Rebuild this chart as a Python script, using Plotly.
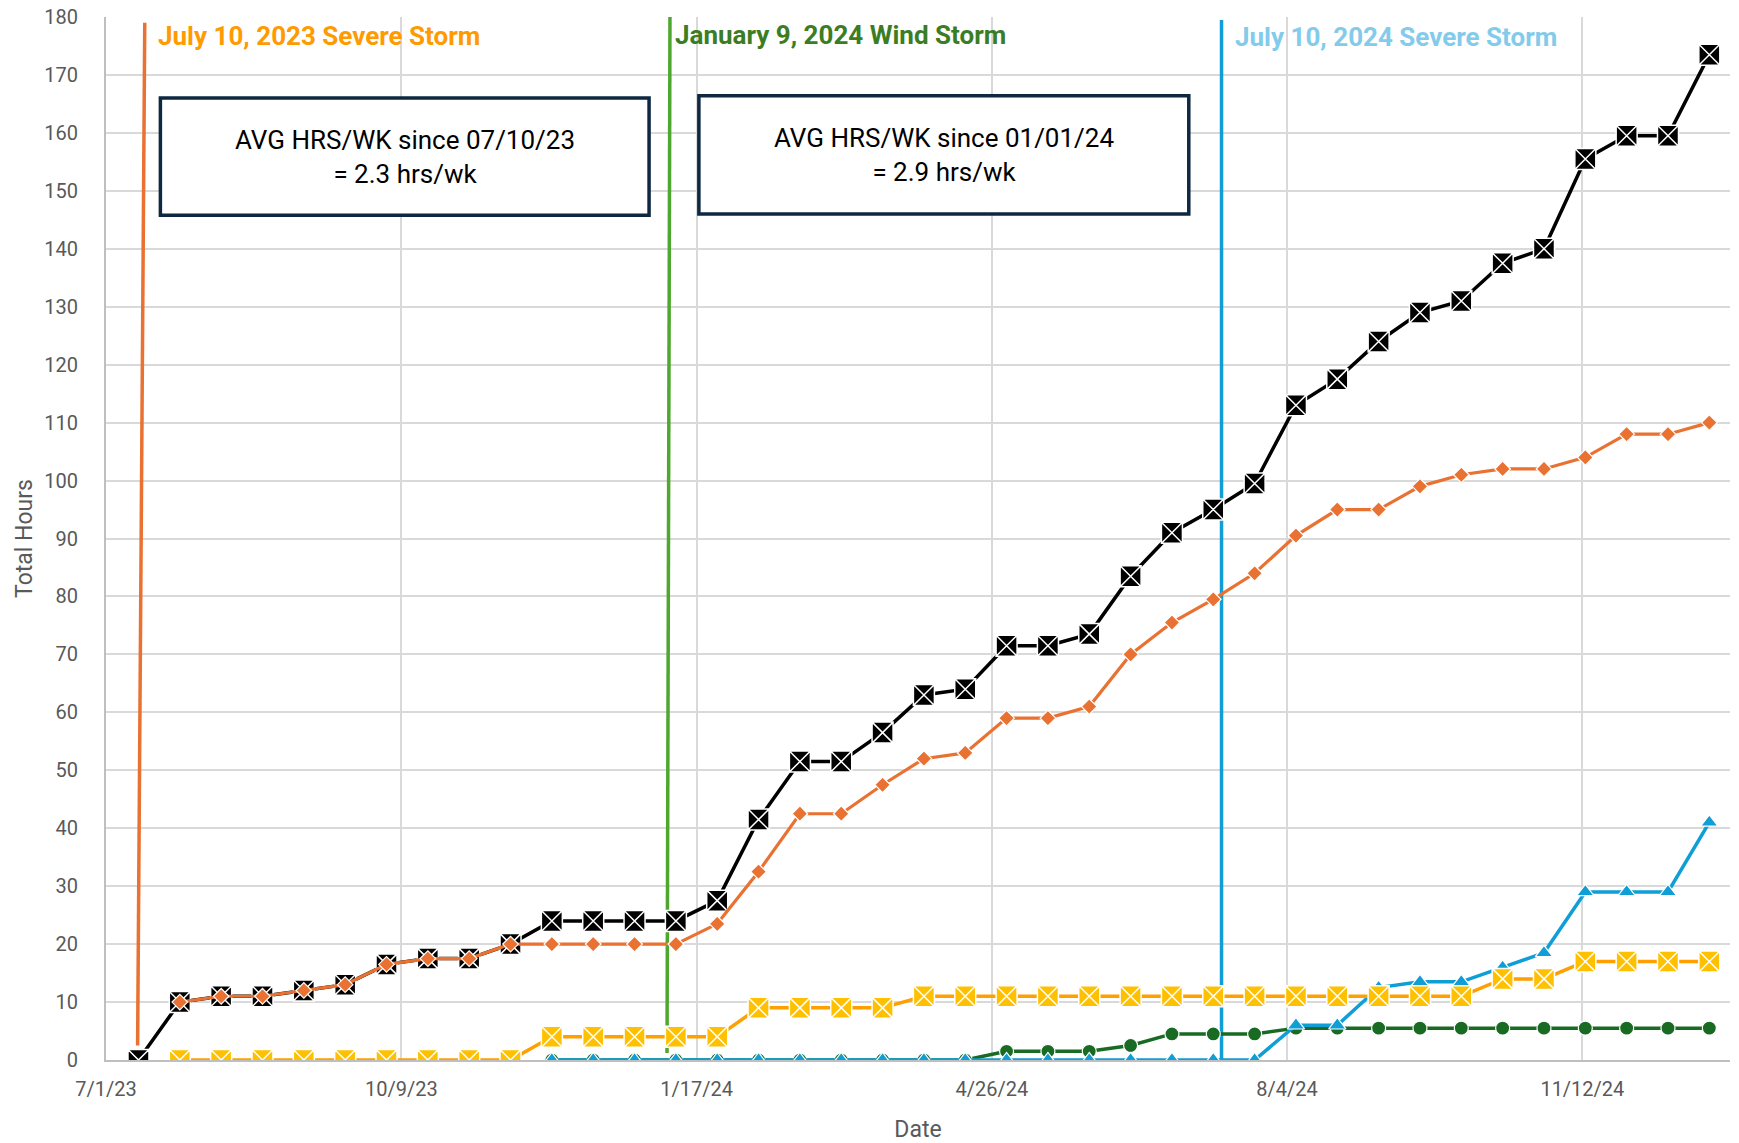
import plotly.graph_objects as go
import pandas as pd

# ---------------- data ----------------
start_date = "2023-07-12"
n_points = 39
dates = pd.date_range(start_date, periods=n_points, freq="14D")

total_hours = [0, 10, 11, 11, 12, 13, 16.5, 17.5, 17.5, 20,
               24, 24, 24, 24, 27.5, 41.5, 51.5, 51.5, 56.5, 63,
               64, 71.5, 71.5, 73.5, 83.5, 91, 95, 99.5, 113, 117.5,
               124, 129, 131, 137.5, 140, 155.5, 159.5, 159.5, 173.5]

orange_hours = [None, 10, 11, 11, 12, 13, 16.5, 17.5, 17.5, 20,
                20, 20, 20, 20, 23.5, 32.5, 42.5, 42.5, 47.5, 52,
                53, 59, 59, 61, 70, 75.5, 79.5, 84, 90.5, 95,
                95, 99, 101, 102, 102, 104, 108, 108, 110]

yellow_hours = [None, 0, 0, 0, 0, 0, 0, 0, 0, 0,
                4, 4, 4, 4, 4, 9, 9, 9, 9, 11,
                11, 11, 11, 11, 11, 11, 11, 11, 11, 11,
                11, 11, 11, 14, 14, 17, 17, 17, 17]

green_hours = [None] * 10 + [0, 0, 0, 0, 0, 0, 0, 0, 0, 0,
                             0, 1.5, 1.5, 1.5, 2.5, 4.5, 4.5, 4.5, 5.5, 5.5,
                             5.5, 5.5, 5.5, 5.5, 5.5, 5.5, 5.5, 5.5, 5.5]

blue_hours = [None] * 10 + [0, 0, 0, 0, 0, 0, 0, 0, 0, 0,
                            0, 0, 0, 0, 0, 0, 0, 0, 6, 6,
                            12.5, 13.5, 13.5, 16, 18.5, 29, 29, 29, 41]

# storm event markers (hand-drawn lines in the original)
event_labels = ["July 10, 2023 Severe Storm", "January 9, 2024 Wind Storm", "July 10, 2024 Severe Storm"]
event_line_top = ["2023-07-14 03:00", "2024-01-08 00:00", "2024-07-12 19:00"]
event_line_bottom = ["2023-07-11 17:00", "2024-01-07 00:00", "2024-07-12 19:00"]
event_line_ybottom = [2.5, 1.2, 0]
event_line_ytop = [179, 180, 179.5]
event_label_x = ["2023-07-17 22:00", "2024-01-09 00:00", "2024-07-16 19:00"]
event_label_y = [176.7, 176.9, 176.5]
event_line_colors = ["#E97132", "#4EA72E", "#0F9ED5"]
event_label_colors = ["#FF9A00", "#3B7D23", "#83CBEB"]

box_texts = ["AVG HRS/WK since 07/10/23<br>= 2.3 hrs/wk", "AVG HRS/WK since 01/01/24<br>= 2.9 hrs/wk"]
box_x0 = ["2023-07-19 10:00", "2024-01-17 19:00"]
box_x1 = ["2023-12-31 22:00", "2024-07-01 17:00"]
box_y0 = [145.8, 146.0]
box_y1 = [166.0, 166.4]

x_range = ["2023-07-01", "2025-01-01"]
tick_start = "2023-07-01"
tick_days = 100

FONT = "Liberation Sans Narrow, Arial Narrow, Roboto, sans-serif"

fig = go.Figure()

fig.add_trace(go.Scatter(
    x=dates, y=total_hours, mode="lines+markers", name="Total",
    line=dict(color="black", width=3.5),
    marker=dict(symbol="square-x", size=21, color="black", line=dict(color="white", width=1.5)),
))
fig.add_trace(go.Scatter(
    x=dates, y=orange_hours, mode="lines+markers", name="Orange",
    line=dict(color="#E97132", width=3.2),
    marker=dict(symbol="diamond", size=12, color="#E97132", line=dict(color="white", width=1.2)),
))
fig.add_trace(go.Scatter(
    x=dates, y=green_hours, mode="lines+markers", name="Green",
    line=dict(color="#196B24", width=3.5),
    marker=dict(symbol="circle", size=14, color="#196B24", line=dict(color="white", width=1.2)),
))
fig.add_trace(go.Scatter(
    x=dates, y=blue_hours, mode="lines+markers", name="Blue",
    line=dict(color="#0F9ED5", width=3.5),
    marker=dict(symbol="triangle-up", size=15, color="#0F9ED5", line=dict(color="white", width=1.2)),
))
fig.add_trace(go.Scatter(
    x=dates, y=yellow_hours, mode="lines+markers", name="Yellow",
    line=dict(color="#FF9F00", width=3.5),
    marker=dict(symbol="square-x", size=21, color="#FFC000", line=dict(color="white", width=1.5)),
))

shapes = []
annotations = []
for i in range(len(event_labels)):
    shapes.append(dict(type="line", xref="x", yref="y",
                       x0=event_line_bottom[i], y0=event_line_ybottom[i],
                       x1=event_line_top[i], y1=event_line_ytop[i],
                       line=dict(color=event_line_colors[i], width=3.5), layer="between"))
    annotations.append(dict(x=event_label_x[i], y=event_label_y[i], xref="x", yref="y",
                            text="<b>" + event_labels[i] + "</b>", showarrow=False,
                            xanchor="left", yanchor="middle",
                            font=dict(family=FONT, size=26, color=event_label_colors[i])))

for i in range(len(box_texts)):
    shapes.append(dict(type="rect", xref="x", yref="y",
                       x0=box_x0[i], x1=box_x1[i], y0=box_y0[i], y1=box_y1[i],
                       line=dict(color="#0E2841", width=3.5), fillcolor="white", layer="above"))
    annotations.append(dict(x=pd.Timestamp(box_x0[i]) + (pd.Timestamp(box_x1[i]) - pd.Timestamp(box_x0[i])) / 2,
                            y=(box_y0[i] + box_y1[i]) / 2, xref="x", yref="y",
                            text=box_texts[i], showarrow=False, xanchor="center", yanchor="middle",
                            font=dict(family=FONT, size=26, color="black")))

fig.update_layout(
    width=1739, height=1143,
    margin=dict(l=106, r=9, t=17, b=83),
    plot_bgcolor="white", paper_bgcolor="white",
    showlegend=False,
    shapes=shapes, annotations=annotations,
    font=dict(family=FONT, color="#595959"),
)
fig.update_xaxes(
    type="date", range=x_range, tick0=tick_start, dtick=tick_days * 86400000,
    tickformat="%-m/%-d/%y", showgrid=True, gridcolor="#D9D9D9", gridwidth=1.5,
    showline=True, linecolor="#BFBFBF", linewidth=2, zeroline=False,
    tickfont=dict(family=FONT, size=20, color="#595959"),
    ticks="", ticklabelstandoff=10, automargin=False, ticklabeloverflow="allow",
    title=dict(text="Date", font=dict(family=FONT, size=23, color="#595959"), standoff=22),
)
fig.update_yaxes(
    range=[0, 180], dtick=10, showgrid=True, gridcolor="#D9D9D9", gridwidth=1.5,
    showline=True, linecolor="#BFBFBF", linewidth=2, zeroline=False,
    tickfont=dict(family=FONT, size=20, color="#595959"),
    ticks="", ticklabelstandoff=22, automargin=False, ticklabeloverflow="allow",
    title=dict(text="Total Hours", font=dict(family=FONT, size=23, color="#595959"), standoff=5),
)

fig.write_html("out.html", config={"displayModeBar": False},
               post_script="document.body.style.margin='0px';")
